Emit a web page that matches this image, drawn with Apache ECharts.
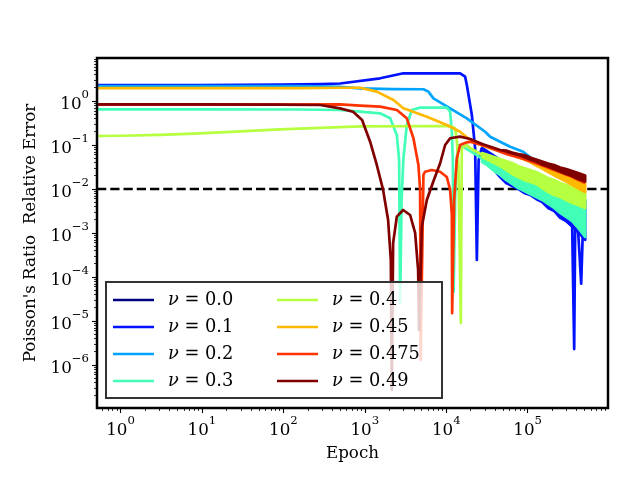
<!DOCTYPE html>
<html>
<head>
<meta charset="utf-8">
<script src="https://cdn.jsdelivr.net/npm/echarts@6/dist/echarts.min.js"></script>
<style>
html, body { margin: 0; padding: 0; background: #fff; }
#main { width: 640px; height: 480px; }
</style>
</head>
<body>
<div id="main"></div>
<script>
// legend names and jet colours
const names = ['ν = 0.0', 'ν = 0.1', 'ν = 0.2', 'ν = 0.3', 'ν = 0.4', 'ν = 0.45', 'ν = 0.475', 'ν = 0.49'];
const colors = ['#000080', '#0012ff', '#00a4ff', '#41ffb6', '#b6ff41', '#ffb900', '#ff3300', '#800000'];

const xMajor = [1, 10, 100, 1000, 10000, 100000];
const yMajor = [1e-6, 1e-5, 1e-4, 1e-3, 1e-2, 1e-1, 1];
const xMin = 0.514, xMax = 9.7e5;
const yMin = 1.05e-7, yMax = 9.49;
const threshold = 0.01;

// [epoch, relative error]
const nu00 = [];
const nu01 = [[0.514, 2.31], [1, 2.31], [9.48, 2.31], [91.1, 2.37], [282, 2.43], [497, 2.5], [1542, 3.28], [2980, 4.26],
  [14820, 4.26], [17070, 3.57], [17910, 2.31], [20630, 0.481], [22650, 0.0841], [23770, 0.000243], [25000, 0.0456],
  [26840, 0.077], [27610, 0.0855], [352200, 0.00144], [372700, 2.3e-6], [383400, 0.0013], [417300, 0.00105],
  [454300, 7e-5], [474000, 0.000855], [508600, 0.00081]];
const nu02 = [[0.514, 2.19], [9.48, 2.19], [160, 2.19], [497, 2.1], [876, 1.94], [2227, 1.87], [5247, 1.85], [6044, 1.63],
  [6964, 1.15], [11170, 0.682], [17910, 0.404], [30060, 0.2], [34620, 0.1545], [60950, 0.0915], [88040, 0.0704],
  [142400, 0.0351], [217700, 0.0219], [332700, 0.0137], [417300, 0.0105], [508600, 0.0081]];
const nu03 = [[0.514, 0.648], [9.48, 0.648], [160, 0.64], [497, 0.624], [876, 0.571], [1542, 0.525], [2046, 0.404],
  [2473, 0.169], [2639, 0.0456], [2715, 2.56e-5], [2832, 0.00562], [2980, 0.0499], [3281, 0.285], [3780, 0.624],
  [4779, 0.705], [10170, 0.705], [11170, 0.571], [11720, 0.2], [12060, 0.0456], [12330, 4.56e-5], [12860, 0.0056],
  [13420, 0.0456], [14000, 0.1], [17070, 0.0855], [22650, 0.0624], [27610, 0.0481]];
const nu04 = [[0.514, 0.16], [1, 0.162], [3.06, 0.169], [9.48, 0.183], [29.4, 0.203], [91.1, 0.227], [282, 0.246],
  [876, 0.266], [11170, 0.27], [12860, 0.24], [13500, 0.119], [14120, 0.0351], [15110, 9e-6], [15540, 0.0841],
  [17910, 0.1], [19670, 0.0855], [27610, 0.0593]];
const nu045 = [[0.514, 1.97], [9.48, 1.97], [160, 1.97], [497, 2.0], [876, 2.0], [1404, 1.63], [2246, 1.05], [2980, 0.682],
  [5777, 0.44], [10170, 0.285], [14820, 0.2], [19670, 0.13], [27610, 0.0974]];
const nu0475 = [[0.514, 0.83], [9.48, 0.83], [91.1, 0.83], [497, 0.84], [876, 0.782], [1542, 0.742], [2473, 0.624],
  [3281, 0.404], [3955, 0.142], [4555, 0.0351], [4779, 0.0095], [4847, 1.3e-6], [5247, 0.0208], [5505, 0.0247],
  [6656, 0.027], [8417, 0.0247], [10170, 0.0187], [11170, 0.0095], [11720, 0.00256], [11820, 1.5e-5], [12510, 0.0056],
  [13500, 0.0499], [14820, 0.1], [17910, 0.115], [19670, 0.118], [30060, 0.095], [54440, 0.0624], [85580, 0.0494],
  [134600, 0.037], [211700, 0.027], [332700, 0.0197], [508600, 0.0137]];
const nu049 = [[0.514, 0.84], [9.48, 0.84], [91.1, 0.83], [282, 0.81], [497, 0.68], [718, 0.571], [926, 0.37],
  [1162, 0.119], [1404, 0.0351], [1678, 0.0095], [1933, 0.00197], [2087, 0.000243], [2147, 2.7e-7], [2227, 0.00059],
  [2473, 0.00235], [2954, 0.00333], [3602, 0.00256], [4150, 0.001], [4517, 0.000144], [4646, 6.2e-6], [5015, 0.00139],
  [5777, 0.0056], [6905, 0.0144], [8417, 0.0384], [9694, 0.1], [11170, 0.142], [14820, 0.1545], [19670, 0.137],
  [27610, 0.105]];

// late-training noise envelopes (upper / lower edge) read at these epochs
const bandEpochs = [27610, 32710, 38770, 45950, 54440, 64510, 76430, 90580, 107300, 127200, 150700, 178600, 211700,
  250800, 297200, 352200, 417300, 508600];
const nu01Top = [0.0855, 0.0693, 0.0562, 0.0456, 0.039, 0.0333, 0.0285, 0.0243, 0.0208, 0.0178, 0.016, 0.0137, 0.0117,
  0.0105, 0.00901, 0.0077, 0.00658, 0.00562];
const nu01Bottom = [0.0562, 0.0411, 0.027, 0.0187, 0.0137, 0.0117, 0.01, 0.00811, 0.00731, 0.00593, 0.00506, 0.0037,
  0.00316, 0.0022, 0.00187, 0.0014, 0.00105, 0.000693];
const nu03Top = [0.0562, 0.0456, 0.039, 0.0333, 0.0285, 0.0243, 0.0208, 0.0178, 0.016, 0.0144, 0.0123, 0.0111, 0.01,
  0.00901, 0.0077, 0.00693, 0.00593, 0.00506];
const nu03Bottom = [0.0411, 0.0333, 0.0256, 0.0208, 0.016, 0.013, 0.0105, 0.00901, 0.0077, 0.00658, 0.00562, 0.00456,
  0.0037, 0.00285, 0.00231, 0.00187, 0.0013, 0.00081];
const nu04Top = [0.0658, 0.0593, 0.0534, 0.0481, 0.0433, 0.039, 0.0333, 0.03, 0.027, 0.0243, 0.0208, 0.0178, 0.016,
  0.0137, 0.0123, 0.0105, 0.00949, 0.00811];
const nu04Bottom = [0.0534, 0.0456, 0.039, 0.0333, 0.027, 0.0219, 0.0187, 0.016, 0.0144, 0.013, 0.0105, 0.00855,
  0.00731, 0.00658, 0.00562, 0.00481, 0.00433, 0.0037];
const nu045Top = [0.0974, 0.0878, 0.079, 0.0731, 0.0658, 0.0593, 0.052, 0.0468, 0.0411, 0.038, 0.0342, 0.03, 0.0263,
  0.0237, 0.0214, 0.0187, 0.0164, 0.0137];
const nu045Bottom = [0.0974, 0.0878, 0.079, 0.0731, 0.0658, 0.0593, 0.052, 0.0468, 0.0411, 0.0342, 0.0292, 0.0243,
  0.0203, 0.0173, 0.0148, 0.0123, 0.0103, 0.00855];
const nu049Top = [0.105, 0.0949, 0.0855, 0.077, 0.075, 0.0675, 0.0624, 0.0593, 0.052, 0.0468, 0.0422, 0.038, 0.0351,
  0.0308, 0.0285, 0.0256, 0.0231, 0.0203];
const nu049Bottom = [0.105, 0.0949, 0.0855, 0.077, 0.0712, 0.0641, 0.0593, 0.0534, 0.0468, 0.0422, 0.036, 0.0325,
  0.0285, 0.025, 0.0219, 0.0197, 0.0169, 0.0148];

const lines = [nu00, nu01, nu02, nu03, nu04, nu045, nu0475, nu049];
const bands = {
  1: [nu01Top, nu01Bottom], 3: [nu03Top, nu03Bottom], 4: [nu04Top, nu04Bottom],
  5: [nu045Top, nu045Bottom], 7: [nu049Top, nu049Bottom]
};

const font = 'DejaVu Serif';
const fontSize = 16.7;
const lineWidth = 2.7;

function minorTicks(lo, hi) {
  const out = [];
  for (let p = Math.floor(Math.log10(lo)); p <= Math.ceil(Math.log10(hi)); p++) {
    for (let k = 2; k <= 9; k++) {
      const v = k * Math.pow(10, p);
      if (v >= lo && v <= hi) out.push(v);
    }
  }
  return out;
}

function powLabel(value) {
  const e = Math.round(Math.log10(value));
  return '{b|10}{s|' + (e < 0 ? '\u2212' + (-e) : e) + '}';
}

const labelRich = {
  b: { fontFamily: font, fontSize: fontSize, color: '#000', lineHeight: 24, verticalAlign: 'bottom' },
  s: { fontFamily: font, fontSize: 11.7, color: '#000', lineHeight: 24, verticalAlign: 'top' }
};

function bandRenderer(upper, lower, color) {
  return function (params, api) {
    if (params.dataIndex !== 0) return;
    const top = bandEpochs.map((e, i) => api.coord([e, upper[i]]));
    const bottom = bandEpochs.map((e, i) => api.coord([e, lower[i]])).reverse();
    return {
      type: 'polygon',
      shape: { points: top.concat(bottom) },
      style: { fill: color, stroke: color, lineWidth: lineWidth, lineJoin: 'round' }
    };
  };
}

const series = [{
  type: 'line',
  name: 'threshold',
  data: [[xMin, threshold], [xMax, threshold]],
  showSymbol: false,
  symbol: 'none',
  silent: true,
  z: 2,
  lineStyle: { color: '#000', width: 2.5, type: [9.25, 4] }
}];

lines.forEach((data, i) => {
  series.push({
    type: 'line',
    name: names[i],
    data: data,
    symbol: 'none',
    showSymbol: false,
    z: 3 + i,
    color: colors[i],
    lineStyle: { color: colors[i], width: lineWidth, join: 'round' }
  });
  if (bands[i]) {
    const [up, lo] = bands[i];
    series.push({
      type: 'custom',
      name: names[i],
      z: 3 + i,
      silent: true,
      clip: true,
      color: colors[i],
      renderItem: bandRenderer(up, lo, colors[i]),
      encode: { x: 0, y: [1, 2] },
      data: bandEpochs.map((e, k) => [e, up[k], lo[k]])
    });
  }
});

const chart = echarts.init(document.getElementById('main'));
chart.setOption({
  animation: false,
  backgroundColor: '#fff',
  grid: { left: 97, right: 32, top: 58, bottom: 72, show: true, borderColor: '#000', borderWidth: 2.5, backgroundColor: 'transparent', z: 30 },
  legend: {
    data: names,
    orient: 'vertical',
    left: 106,
    top: 282,
    height: 106,
    icon: 'rect',
    itemWidth: 41,
    itemHeight: 2.7,
    itemGap: 9,
    padding: [9, 10, 8, 7],
    backgroundColor: 'rgba(255,255,255,0.8)',
    borderColor: '#333',
    borderWidth: 2,
    borderRadius: 0,
    z: 40,
    selectedMode: false,
    formatter: name => '{nu|ν}' + name.slice(1),
    textStyle: {
      fontFamily: font, fontSize: 17.8, color: '#000', width: 100, lineHeight: 18, padding: [0, 0, 0, 9],
      rich: { nu: { fontFamily: font, fontStyle: 'italic', fontSize: 17.8, color: '#000' } }
    }
  },
  xAxis: [{
    type: 'log', min: xMin, max: xMax,
    name: 'Epoch', nameLocation: 'middle', nameGap: 37,
    nameTextStyle: { fontFamily: font, fontSize: fontSize, color: '#000' },
    axisLine: { show: false },
    splitLine: { show: false },
    axisTick: { show: true, length: 5, customValues: xMajor, lineStyle: { color: '#000', width: 1.1 } },
    axisLabel: { customValues: xMajor, margin: 7, formatter: powLabel, rich: labelRich }
  }, {
    type: 'log', min: xMin, max: xMax, position: 'bottom',
    axisLine: { show: false }, splitLine: { show: false }, axisLabel: { show: false },
    axisTick: { show: true, length: 3, customValues: minorTicks(xMin, xMax), lineStyle: { color: '#000', width: 0.8 } }
  }],
  yAxis: [{
    type: 'log', min: yMin, max: yMax,
    name: "Poisson's Ratio  Relative Error", nameLocation: 'middle', nameGap: 57,
    nameTextStyle: { fontFamily: font, fontSize: fontSize, color: '#000' },
    axisLine: { show: false },
    splitLine: { show: false },
    axisTick: { show: true, length: 5, customValues: yMajor, lineStyle: { color: '#000', width: 1.1 } },
    axisLabel: { customValues: yMajor, margin: 8, formatter: powLabel, rich: labelRich }
  }, {
    type: 'log', min: yMin, max: yMax, position: 'left',
    axisLine: { show: false }, splitLine: { show: false }, axisLabel: { show: false },
    axisTick: { show: true, length: 3, customValues: minorTicks(yMin, yMax), lineStyle: { color: '#000', width: 0.8 } }
  }],
  series: series
});
</script>
</body>
</html>
